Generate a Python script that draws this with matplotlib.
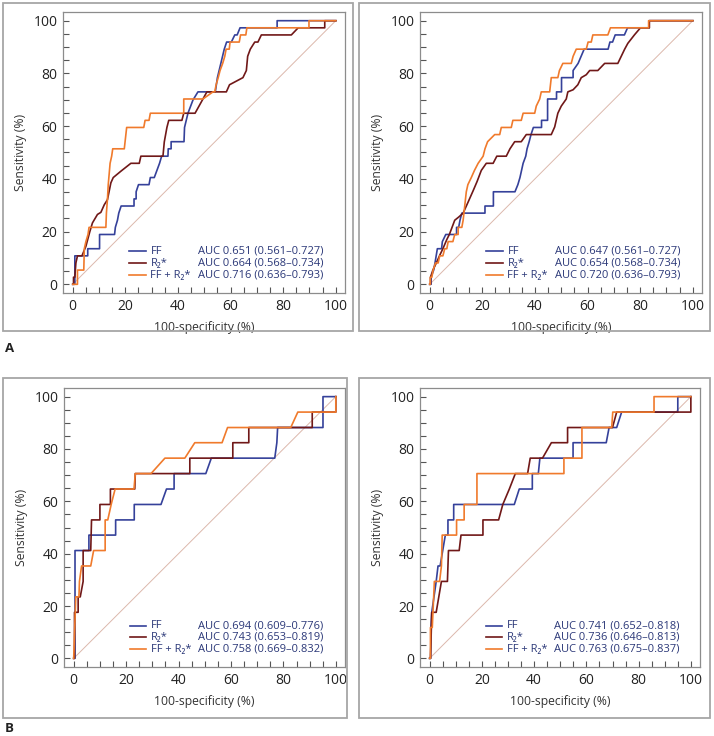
"""
ROC curves: FF, R2* and FF + R2* (panels A and B, two readers each)
"""
import matplotlib
matplotlib.use('Agg')
import matplotlib.pyplot as plt
import numpy as np
from matplotlib.patches import Rectangle

plt.rcParams['font.family'] = ['Open Sans', 'DejaVu Sans']

# ---- data (100-specificity %, sensitivity %) ----
a1_ff = [(0, 0), (0.8, 0), (0.8, 10.8), (5.7, 10.8), (5.7, 13.5), (10.2, 13.5), (10.2, 18.9),
         (15.9, 18.9), (16.2, 21.6), (17, 24.3), (17.5, 27), (18.4, 29.7), (23.3, 29.7),
         (23.3, 32.4), (24.1, 32.4), (24.1, 35.1), (25, 37.8), (29, 37.8), (29.5, 40.5),
         (31, 40.5), (32, 43.2), (33, 45.9), (33.8, 48.6), (36.2, 48.6), (36.3, 51.4),
         (37.4, 51.4), (37.4, 54.1), (42.3, 54.1), (42.5, 59.5), (43.8, 64.9), (45.7, 69.9),
         (47.6, 73), (54.2, 73), (55, 78.4), (56.3, 83.8), (57.6, 89.2), (58.5, 91.9),
         (60.3, 91.9), (61.6, 94.6), (62.5, 94.6), (63.6, 97.3), (77.7, 97.3), (77.7, 100),
         (100, 100)]
a1_r2 = [(0, 0), (0.3, 0), (0.3, 2.7), (0.8, 2.7), (1.2, 8.1), (1.8, 10.8), (3.5, 10.8),
         (5, 14.4), (6.5, 20), (7.5, 23.3), (9.4, 26.5), (10.7, 27.3), (12, 30.2), (13.2, 32.1),
         (14.5, 38.5), (15.4, 40.5), (18.3, 42.9), (22.1, 45.9), (25.3, 45.9), (25.9, 48.6),
         (34.3, 48.6), (34.8, 54), (35.8, 59.5), (36.5, 62.2), (41.5, 62.2), (42.2, 64.9),
         (46.5, 64.9), (48, 67.6), (49.5, 70.3), (51, 73), (58.4, 73), (59.6, 75.7),
         (64.7, 78.4), (66, 81.1), (66.5, 86.5), (67.5, 89.2), (69.2, 91.9), (70.4, 91.9),
         (71.7, 94.6), (83.1, 94.6), (85.7, 97.3), (95.8, 97.3), (95.8, 100), (100, 100)]
a1_ffr2 = [(0, 0), (1.8, 0), (1.8, 5.4), (4.2, 5.4), (4.4, 13.5), (5, 16.2), (5.8, 18.9),
           (6.2, 21.6), (12.6, 21.6), (12.8, 27), (13.2, 32.4), (13.5, 37.8), (14.2, 45.9),
           (14.8, 48.6), (15.2, 51.4), (19.6, 51.4), (20.2, 56.8), (20.5, 59.5), (27, 59.5),
           (27.5, 62.2), (29, 62.2), (29.5, 64.9), (42.2, 64.9), (42.2, 70.3), (49.5, 70.3),
           (53.3, 73), (54, 73), (54.5, 75.7), (55.3, 78.4), (56, 81.1), (57, 83.8),
           (57.8, 86.5), (58.3, 89.2), (59.5, 89.2), (59.8, 91.9), (63.3, 91.9), (63.8, 94.6),
           (65.8, 94.6), (66.2, 97.3), (89.8, 97.3), (89.8, 100), (100, 100)]

a2_ff = [(0, 0), (0.5, 0), (0.5, 2.7), (1.5, 5.4), (2, 8.1), (2.9, 13.5), (4.5, 13.5),
         (4.8, 16.2), (6.1, 18.9), (10.2, 18.9), (10.2, 21.6), (11, 21.6), (11.5, 24.3),
         (12.2, 27), (21, 27), (21, 29.7), (24.2, 29.7), (24.2, 35.1), (32.4, 35.1),
         (33.5, 37.8), (34.3, 40.5), (34.9, 43.2), (35.5, 45.9), (36.5, 48.6), (37, 51.4),
         (37.8, 54.1), (38.5, 56.8), (39.4, 59.5), (42.5, 59.5), (42.5, 62.2), (44.8, 62.2),
         (44.8, 70.3), (48.2, 70.3), (48.2, 73), (50.1, 73), (50.1, 78.4), (54.5, 78.4),
         (54.5, 81.1), (56.4, 83.8), (58.7, 89.2), (67.8, 89.2), (68.5, 91.9), (69.5, 91.9),
         (70.5, 94.6), (74, 94.6), (75.2, 97.3), (83.4, 97.3), (83.4, 100), (100, 100)]
a2_r2 = [(0, 0), (0.3, 0), (0.3, 2.7), (1.2, 5.4), (2.5, 8.1), (3.8, 11), (5, 13.5),
         (6.5, 17), (7.5, 19), (9.5, 24.3), (11, 25.5), (12.7, 27), (14.5, 31), (16.5, 35.5),
         (18, 39), (19.6, 43.2), (21.5, 45.9), (24.1, 45.9), (25.5, 48.6), (29.1, 48.6),
         (30.5, 51.4), (32.3, 54.1), (34.8, 54.1), (36.7, 56.8), (46.2, 56.8), (47.5, 59.7),
         (48.7, 64.9), (50, 67.6), (51.9, 70.3), (52.5, 73), (54.5, 73.8), (56.3, 75.7),
         (57.6, 78.4), (59.5, 79.5), (60.8, 81.1), (63.9, 81.1), (66.5, 83.8), (71.5, 83.8),
         (72.8, 86.5), (74.1, 89.2), (75.3, 91.4), (77.8, 94.6), (80.1, 97.3), (83.5, 97.3),
         (83.5, 100), (100, 100)]
a2_ffr2 = [(0, 0), (0.2, 0), (0.2, 2.7), (0.8, 2.7), (1.3, 5.4), (2.2, 8.1), (3.2, 8.1),
           (3.8, 10.8), (5, 10.8), (5.7, 13.5), (6.5, 13.5), (7, 16.2), (8.8, 16.2),
           (9.5, 18.9), (10.8, 18.9), (10.8, 21.6), (12.2, 21.6), (12.7, 24.3), (13.3, 29.7),
           (13.9, 35.1), (14.5, 37.8), (15.8, 40.5), (17, 43.2), (18.4, 45.9), (20.3, 48.6),
           (21, 51.4), (22, 54.1), (24.7, 56.8), (26.6, 56.8), (27.2, 59.5), (31, 59.5),
           (31.6, 62.2), (34.8, 62.2), (35.5, 64.9), (39.9, 64.9), (40.5, 67.6), (41.8, 70.3),
           (42.4, 73), (45.6, 73), (46.2, 78.4), (48.7, 78.4), (49.3, 81.1), (50.6, 83.8),
           (53.8, 83.8), (54.5, 86.5), (55.7, 89.2), (59.5, 89.2), (60.2, 91.9), (61.4, 91.9),
           (62, 94.6), (67.7, 94.6), (68.7, 97.3), (83.2, 97.3), (83.2, 100), (100, 100)]

b1_ff = [(0, 0), (0.5, 0), (0.5, 41.2), (5.8, 41.2), (5.8, 47.1), (16, 47.1), (16, 52.9),
         (23.1, 52.9), (23.1, 58.8), (33.3, 58.8), (35.4, 64.7), (38.3, 64.7), (38.3, 70.6),
         (50.4, 70.6), (52.5, 76.5), (76.7, 76.5), (77.5, 82.4), (77.8, 88.2), (95.1, 88.2),
         (95.1, 100), (100, 100)]
b1_r2 = [(0, 0), (0.3, 0), (0.3, 17.6), (1.7, 17.6), (1.7, 23.5), (2.5, 23.5), (3.6, 29.4),
         (3.6, 41.2), (6.5, 41.2), (6.8, 52.9), (10, 52.9), (10, 58.8), (14, 58.8), (14, 64.7),
         (23.3, 64.7), (23.5, 70.6), (44.3, 70.6), (44.3, 76.5), (60.7, 76.5), (60.7, 82.4),
         (66.8, 82.4), (66.8, 88.2), (91, 88.2), (91, 94.1), (100, 94.1), (100, 100)]
b1_ffr2 = [(0, 0), (0.4, 11.8), (0.8, 23.5), (2, 23.5), (2.2, 29.4), (3, 35.3), (6.5, 35.3),
           (7.6, 41.2), (12, 41.2), (12, 52.9), (13, 52.9), (14.3, 58.8), (15.8, 64.7),
           (23, 64.7), (23.5, 70.6), (29.5, 70.6), (34.8, 76.5), (42.4, 76.5), (46.2, 82.4),
           (56.6, 82.4), (58.7, 88.2), (82.8, 88.2), (85.5, 94.1), (100, 94.1), (100, 100)]

b2_ff = [(0, 0), (0.4, 0), (0.5, 11.8), (0.8, 17.6), (2.5, 29.4), (3.2, 35.3), (4, 35.3),
         (5, 41.2), (6, 47.1), (7, 47.1), (7, 52.9), (9.2, 52.9), (9.2, 58.8), (32.4, 58.8),
         (34.3, 64.7), (39.3, 64.7), (39.3, 70.6), (41.6, 70.6), (42.2, 76.5), (54.9, 76.5),
         (54.9, 82.4), (67.6, 82.4), (68.7, 88.2), (71.6, 88.2), (73.5, 94.1), (95, 94.1),
         (95, 100), (100, 100)]
b2_r2 = [(0, 0), (0.3, 0), (0.5, 5.9), (0.8, 17.6), (2.5, 17.6), (4.5, 29.4), (6.8, 29.4),
         (7.2, 41.2), (11.3, 41.2), (12, 47.1), (20.4, 47.1), (20.4, 52.9), (26.4, 52.9),
         (28, 58.8), (30.5, 64.7), (32.8, 70.6), (37.5, 70.6), (38.5, 76.5), (43.2, 76.5),
         (46.6, 82.4), (52.8, 82.4), (52.8, 88.2), (70, 88.2), (71.6, 94.1), (100, 94.1),
         (100, 100)]
b2_ffr2 = [(0, 0), (0.3, 0), (0.3, 11.8), (1, 11.8), (1.8, 29.4), (3.8, 29.4), (4.5, 35.3),
           (4.8, 47.1), (10.3, 47.1), (10.3, 52.9), (13.2, 52.9), (13.2, 58.8), (18.1, 58.8),
           (18.1, 70.6), (51.4, 70.6), (51.4, 76.5), (58.3, 76.5), (58.3, 88.2), (69.7, 88.2),
           (70.1, 94.1), (85.9, 94.1), (85.9, 100), (100, 100)]

series_names = ['FF', 'R₂*', 'FF + R₂*']
auc_a1 = ['AUC 0.651 (0.561–0.727)', 'AUC 0.664 (0.568–0.734)', 'AUC 0.716 (0.636–0.793)']
auc_a2 = ['AUC 0.647 (0.561–0.727)', 'AUC 0.654 (0.568–0.734)', 'AUC 0.720 (0.636–0.793)']
auc_b1 = ['AUC 0.694 (0.609–0.776)', 'AUC 0.743 (0.653–0.819)', 'AUC 0.758 (0.669–0.832)']
auc_b2 = ['AUC 0.741 (0.652–0.818)', 'AUC 0.736 (0.646–0.813)', 'AUC 0.763 (0.675–0.837)']

colors = ['#35419a', '#701818', '#f07a2c']
NAVY = '#2b3878'
W, H = 714, 736


def px_rect(left, top, right, bottom):
    """pixel box -> figure fraction [l, b, w, h]"""
    return [left / W, 1 - bottom / H, (right - left) / W, (bottom - top) / H]


def draw_panel(fig, box, frame, curves, aucs):
    # outer gray frame
    fig.patches.append(Rectangle((frame[0] / W, 1 - frame[3] / H),
                                 (frame[2] - frame[0]) / W, (frame[3] - frame[1]) / H,
                                 transform=fig.transFigure, fill=False,
                                 edgecolor='#a6a6a6', linewidth=1.3))
    ax = fig.add_axes(px_rect(*box))
    ax.plot([0, 100], [0, 100], color='#dcb8ac', lw=0.7, zorder=1)
    for pts, c in zip(curves, colors):
        pts = np.array(pts)
        ax.plot(pts[:, 0], pts[:, 1], color=c, lw=1.2, zorder=2)

    ax.set_xlim(-3.7, 103.5)
    ax.set_ylim(-3.3, 103.3)
    ax.set_xticks(np.arange(0, 101, 20))
    ax.set_yticks(np.arange(0, 101, 20))
    ax.set_xticks(np.arange(0, 101, 5), minor=True)
    ax.set_yticks(np.arange(0, 101, 5), minor=True)
    ax.tick_params(which='both', direction='in', length=4, width=0.8, color='#555555',
                   labelsize=10, labelcolor='#222222', pad=4)
    for s in ax.spines.values():
        s.set_color('#8c8c8c')
        s.set_linewidth(0.9)
    ax.set_xlabel('100-specificity (%)', fontsize=8.7, color='#333333', labelpad=5)
    ax.set_ylabel('Sensitivity (%)', fontsize=8.7, color='#333333', labelpad=5)

    # legend rows: line, name, AUC text
    for i, (name, auc, c) in enumerate(zip(series_names, aucs, colors)):
        yy = 0.148 - i * 0.042
        ax.plot([0.235, 0.293], [yy, yy], color=c, lw=1.2, transform=ax.transAxes)
        ax.text(0.31, yy, name, transform=ax.transAxes, fontsize=8, color=NAVY,
                va='center', ha='left')
        ax.text(0.478, yy, auc, transform=ax.transAxes, fontsize=8, color=NAVY,
                va='center', ha='left')
    return ax


fig = plt.figure(figsize=(W / 100, H / 100), dpi=100)
fig.patch.set_facecolor('white')

draw_panel(fig, (63, 12, 345, 293), (3, 3, 353, 331), [a1_ff, a1_r2, a1_ffr2], auc_a1)
draw_panel(fig, (420, 12, 702, 293), (359, 3, 710, 331), [a2_ff, a2_r2, a2_ffr2], auc_a2)
draw_panel(fig, (64, 388, 345, 667), (3, 378, 347, 718), [b1_ff, b1_r2, b1_ffr2], auc_b1)
draw_panel(fig, (420, 388, 700, 667), (359, 378, 710, 718), [b2_ff, b2_r2, b2_ffr2], auc_b2)

fig.text(5 / W, 1 - 349 / H, 'A', fontsize=9.5, fontweight='bold', color='#222222',
         va='center', ha='left')
fig.text(5 / W, 1 - 729 / H, 'B', fontsize=9.5, fontweight='bold', color='#222222',
         va='center', ha='left')

fig.savefig('out.png', dpi=100, facecolor='white')
